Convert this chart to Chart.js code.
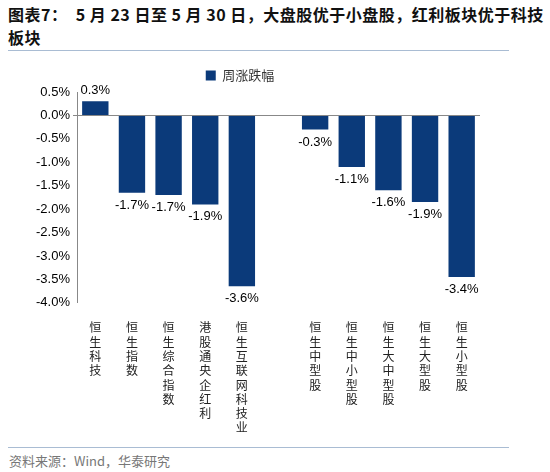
<!DOCTYPE html>
<html><head><meta charset="utf-8">
<script src="https://cdn.jsdelivr.net/npm/chart.js@4"></script>
<style>
body{margin:0;width:550px;height:472px;background:#fff;position:relative;overflow:hidden;font-family:"Liberation Sans",Arial,sans-serif}
#t{position:absolute;left:8px;top:3px;width:540px;font:bold 16px "Noto Sans CJK SC";line-height:23px;color:#111;letter-spacing:0.5px}
.ln{position:absolute;left:8px;width:501px;height:1px;background:#a9bcd3}
#f{position:absolute;left:9px;top:451px;font:13px "Noto Sans CJK SC";color:#777}
#c{position:absolute;left:0;top:55px}
</style></head><body>
<div id="t">图表7：&nbsp; 5 月 23 日至 5 月 30 日，大盘股优于小盘股，红利板块优于科技板块</div>
<div class="ln" style="top:50px"></div>
<div class="ln" style="top:447px"></div>
<div id="f">资料来源：Wind，华泰研究</div>
<div id="c"><canvas id="cv" width="550" height="390"></canvas></div>
<script>
const categories=['恒生科技','恒生指数','恒生综合指数','港股通央企红利','恒生互联网科技业','','恒生中型股','恒生中小型股','恒生大中型股','恒生大型股','恒生小型股'];
const weeklyChange=[0.3,-1.65,-1.7,-1.9,-3.65,null,-0.3,-1.1,-1.6,-1.85,-3.45];
const valueLabels=['0.3%','-1.7%','-1.7%','-1.9%','-3.6%','','-0.3%','-1.1%','-1.6%','-1.9%','-3.4%'];
const seriesName='周涨跌幅';
const labelPlugin={id:'vl',afterDatasetsDraw(ch){const c=ch.ctx;const m=ch.getDatasetMeta(0);c.save();c.font='13px "Liberation Sans"';c.fillStyle='#000';c.textAlign='center';
m.data.forEach((b,i)=>{const v=weeklyChange[i];if(v==null)return;if(v>=0){c.textBaseline='bottom';c.fillText(valueLabels[i],b.x,b.y-4);}else{c.textBaseline='top';c.fillText(valueLabels[i],b.x,b.y+6);}});c.restore();}};
new Chart(document.getElementById('cv'),{type:'bar',
data:{labels:categories.map(s=>s.split('')),datasets:[{label:seriesName,data:weeklyChange,backgroundColor:'#0b3a7a',barPercentage:0.72,categoryPercentage:1}]},
options:{responsive:false,animation:false,
layout:{padding:{left:0,right:70,top:0,bottom:0}},
plugins:{tooltip:{enabled:false},legend:{labels:{boxWidth:10,boxHeight:10,font:{family:'Noto Sans CJK SC',size:13},color:'#333',padding:14}}},
scales:{
x:{grid:{display:false},border:{display:false},ticks:{maxRotation:0,autoSkip:false,font:{family:'Noto Sans CJK SC',size:12,lineHeight:1.19},color:'#222',padding:10}},
y:{min:-4,max:0.5,afterFit(s){s.width=77},ticks:{stepSize:0.5,callback:v=>v.toFixed(1)+'%',font:{family:'Liberation Sans',size:13},color:'#000'},
grid:{drawOnChartArea:true,tickLength:4,color:c=>c.tick&&Math.abs(c.tick.value)<1e-9?'#888':'rgba(0,0,0,0)'},border:{color:'#888'}}}},
plugins:[labelPlugin]});
</script></body></html>
